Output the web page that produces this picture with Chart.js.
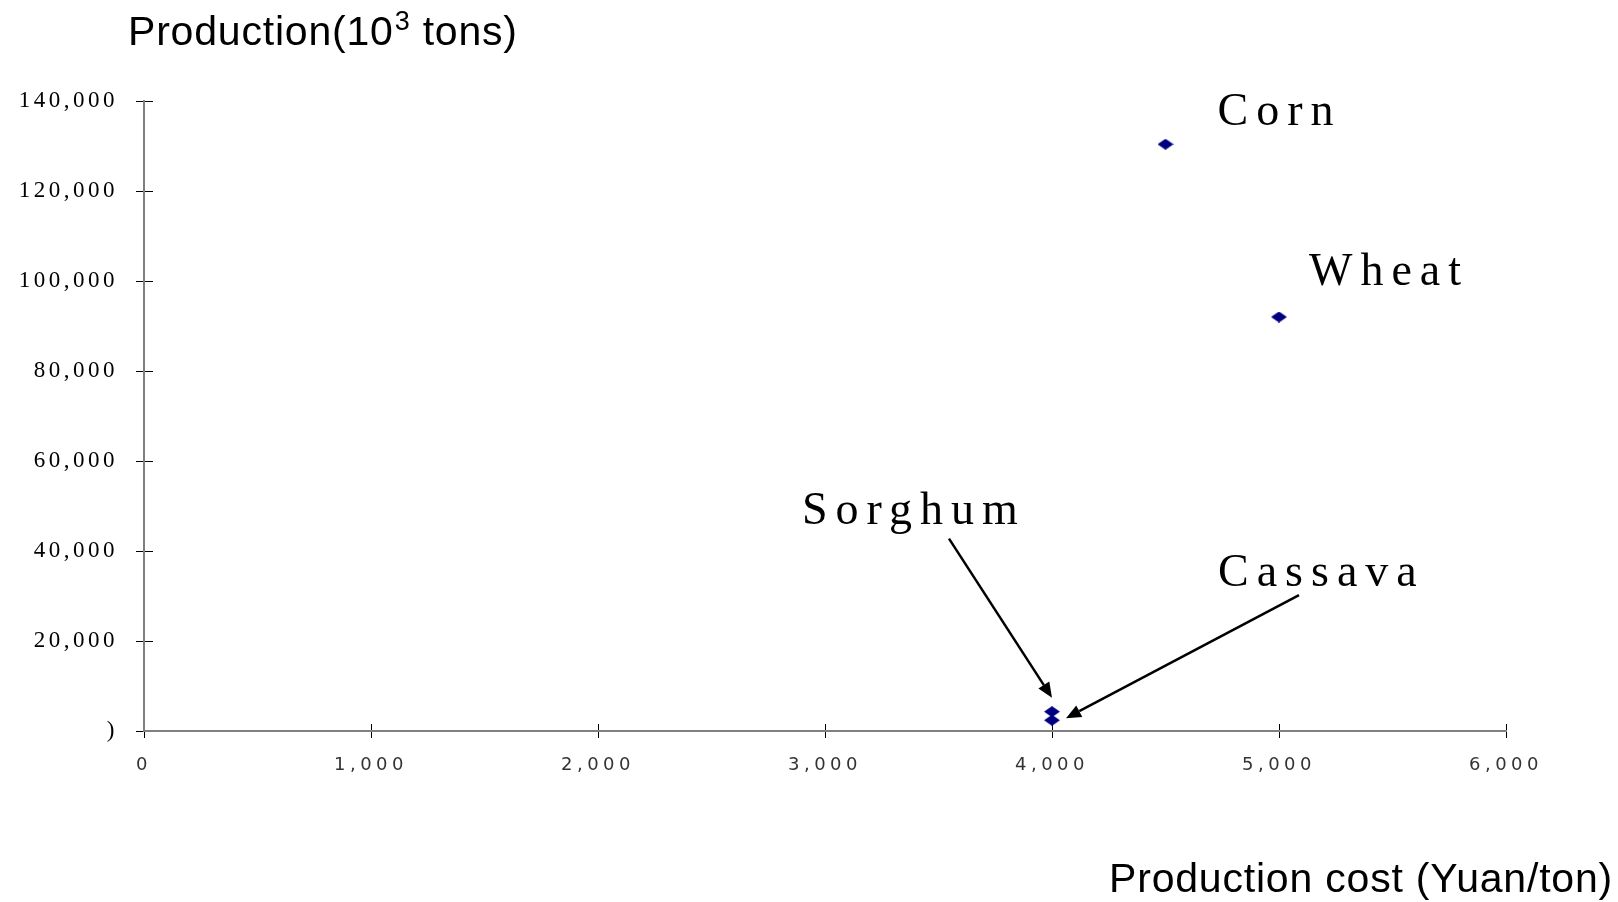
<!DOCTYPE html>
<html>
<head>
<meta charset="utf-8">
<title>Production and production cost</title>
<script src="https://cdn.jsdelivr.net/npm/chart.js@4.4.1/dist/chart.umd.min.js"></script>
<style>
html, body { margin: 0; padding: 0; background: #fff; }
canvas { display: block; }
</style>
</head>
<body>
<canvas id="chart1" width="1618" height="902"></canvas>
<script>
var crops = ['Corn', 'Wheat', 'Sorghum', 'Cassava'];
var cost = [4500, 5000, 4000, 4000];            // Yuan/ton
var production = [130400, 92000, 4300, 2400];   // 10^3 tons
var xTicks = ['0', '1,000', '2,000', '3,000', '4,000', '5,000', '6,000'];
var yTicks = [')', '20,000', '40,000', '60,000', '80,000', '100,000', '120,000', '140,000'];

// where each label / arrow sits, relative to its point (pixels)
var labelOffset = {
    Corn: [52, -19],
    Wheat: [30, -32],
    Sorghum: [-250, -188],
    Cassava: [166, -134]
};
var arrowOffset = {
    Sorghum: [-103, -173, 0, -14],
    Cassava: [247, -125, 14, -2]
};

// flat navy diamond used as the point marker
var diamond = document.createElement('canvas');
diamond.width = 16;
diamond.height = 11;
var d = diamond.getContext('2d');
d.fillStyle = '#000080';
d.beginPath();
d.moveTo(0, 5.5); d.lineTo(8, 0); d.lineTo(16, 5.5); d.lineTo(8, 11);
d.closePath();
d.fill();

var tickSpacing = { x: '4.5px', y: '3.5px' };

var spacedTicks = {
    id: 'spacedTicks',
    beforeDraw: function(chart) {
        Object.keys(tickSpacing).forEach(function(id) {
            var scale = chart.scales[id];
            if (!scale || scale.$spaced) return;
            var draw = scale.drawLabels;
            scale.drawLabels = function(area) {
                this.ctx.save();
                this.ctx.letterSpacing = tickSpacing[id];
                draw.call(this, area);
                this.ctx.restore();
            };
            scale.$spaced = true;
        });
    }
};

function drawArrow(ctx, x1, y1, x2, y2) {
    var ang = Math.atan2(y2 - y1, x2 - x1);
    var len = 15, half = 6.5;
    var bx = x2 - len * Math.cos(ang), by = y2 - len * Math.sin(ang);
    ctx.lineWidth = 2.5;
    ctx.beginPath();
    ctx.moveTo(x1, y1);
    ctx.lineTo(bx, by);
    ctx.stroke();
    ctx.beginPath();
    ctx.moveTo(x2, y2);
    ctx.lineTo(bx + half * Math.sin(ang), by - half * Math.cos(ang));
    ctx.lineTo(bx - half * Math.sin(ang), by + half * Math.cos(ang));
    ctx.closePath();
    ctx.fill();
}

var notes = {
    id: 'notes',
    afterDatasetsDraw: function(chart) {
        var ctx = chart.ctx, xs = chart.scales.x, ys = chart.scales.y;
        ctx.save();
        ctx.fillStyle = '#000';
        ctx.strokeStyle = '#000';
        ctx.font = '46px "Liberation Serif"';
        ctx.letterSpacing = '8px';
        ctx.textAlign = 'left';
        ctx.textBaseline = 'alphabetic';
        crops.forEach(function(name, i) {
            var px = xs.getPixelForValue(cost[i]);
            var py = ys.getPixelForValue(production[i]);
            var lo = labelOffset[name];
            ctx.fillText(name, px + lo[0], py + lo[1]);
            var a = arrowOffset[name];
            if (a) drawArrow(ctx, px + a[0], py + a[1], px + a[2], py + a[3]);
        });
        ctx.restore();
    },
    afterDraw: function(chart) {
        var ctx = chart.ctx;
        ctx.save();
        ctx.fillStyle = '#000';
        ctx.letterSpacing = '0.8px';
        ctx.textBaseline = 'alphabetic';
        ctx.textAlign = 'left';
        // y axis title with a raised 3
        var x = 128, base = 45;
        ctx.font = '41px "Liberation Sans"';
        ctx.fillText('Production(10', x, base);
        x += ctx.measureText('Production(10').width;
        ctx.font = '27px "Liberation Sans"';
        ctx.fillText('3', x + 1, base - 15);
        x += ctx.measureText('3').width + 1;
        ctx.font = '41px "Liberation Sans"';
        ctx.fillText(' tons)', x, base);
        // x axis title
        ctx.textAlign = 'right';
        ctx.fillText('Production cost (Yuan/ton)', 1613, 892);
        ctx.restore();
    }
};

var chart1 = new Chart(document.getElementById('chart1').getContext('2d'), {
    type: 'scatter',
    data: {
        labels: crops,
        datasets: [{
            label: 'Production',
            data: crops.map(function(c, i) { return { x: cost[i], y: production[i] }; }),
            pointStyle: diamond,
            pointRadius: 6,
            backgroundColor: '#000080',
            borderColor: '#000080'
        }]
    },
    options: {
        responsive: false,
        animation: false,
        devicePixelRatio: 1,
        events: [],
        layout: { padding: { left: 0, right: 112, top: 101, bottom: 0 } },
        plugins: {
            legend: { display: false },
            tooltip: { enabled: false }
        },
        scales: {
            x: {
                type: 'linear',
                min: 0,
                max: 6000,
                afterFit: function(s) { s.height = 171; },
                ticks: {
                    stepSize: 1000,
                    autoSkip: false,
                    maxRotation: 0,
                    callback: function(v, i) { return xTicks[i]; },
                    font: { family: 'DejaVu Sans', size: 18 },
                    color: '#333',
                    padding: 17
                },
                grid: { color: '#000', lineWidth: 1, tickLength: 7, drawOnChartArea: true },
                border: { display: true, color: '#808080', width: 2, dash: [0, 623, 7, 3000] }
            },
            y: {
                type: 'linear',
                min: 0,
                max: 140000,
                afterFit: function(s) { s.width = 144; },
                ticks: {
                    stepSize: 20000,
                    autoSkip: false,
                    callback: function(v, i) { return yTicks[i]; },
                    font: { family: 'Liberation Serif', size: 23 },
                    color: '#000',
                    padding: 18
                },
                grid: { color: '#000', lineWidth: 1, tickLength: 8, drawOnChartArea: true },
                border: { display: true, color: '#808080', width: 2, dash: [8, 3000] }
            }
        }
    },
    plugins: [spacedTicks, notes]
});
</script>
</body>
</html>
